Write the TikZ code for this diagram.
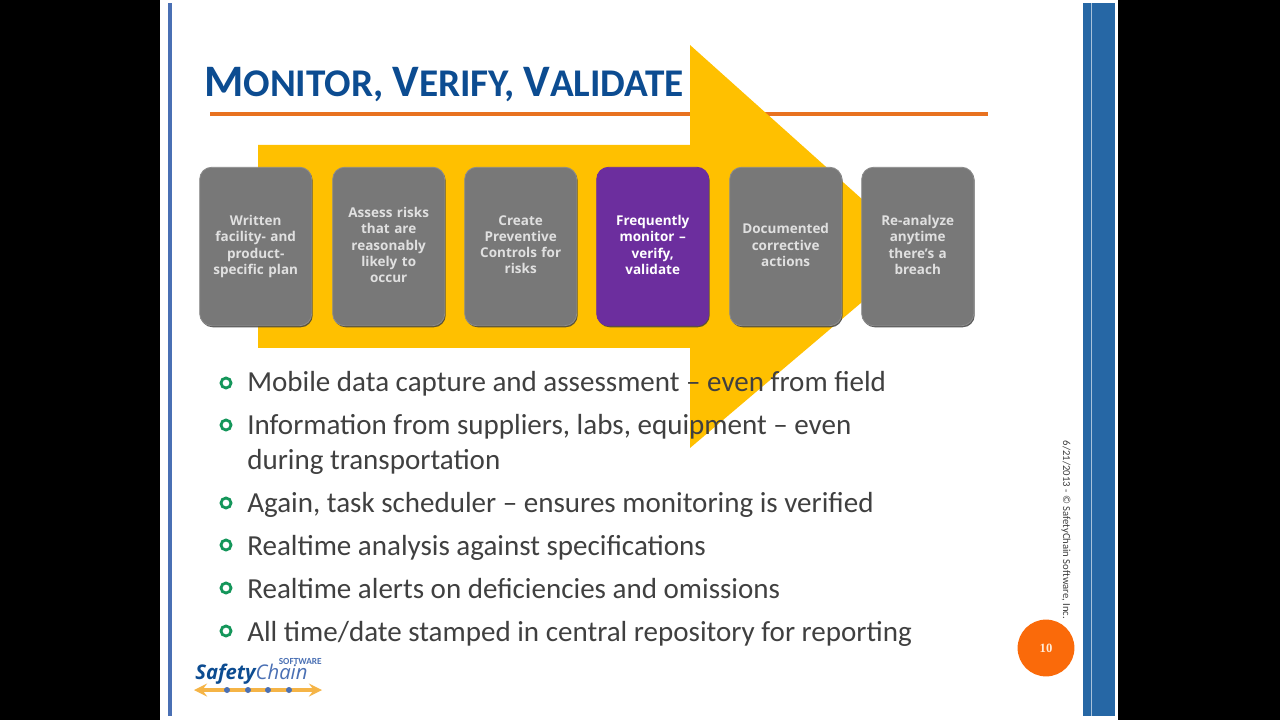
\documentclass[tikz,border=0pt]{standalone}
\usepackage{fontspec}
\usepackage{xcolor}
\setmainfont{Carlito}
\newfontfamily\boxfont{Open Sans}
\usetikzlibrary{positioning, shadows}
\definecolor{barblue}{RGB}{38, 103, 165}
\definecolor{edgeblue}{RGB}{74, 112, 180}
\definecolor{titleblue}{RGB}{12, 76, 145}
\definecolor{ruleorange}{RGB}{232, 114, 32}
\definecolor{arrowyellow}{RGB}{255, 192, 0}
\definecolor{boxgrey}{RGB}{120, 120, 120}
\definecolor{boxpurple}{RGB}{108, 46, 158}
\definecolor{ringgreen}{RGB}{20, 150, 90}
\definecolor{bodygrey}{RGB}{64, 64, 64}
\definecolor{badgeorange}{RGB}{250, 106, 10}
\definecolor{logoorange}{RGB}{245, 180, 70}
\tikzstyle{stepbox} = [rectangle, rounded corners=8.5pt, minimum width=2.8cm, minimum height=3.96cm, inner sep=0pt, align=center, text=white!88!black, text width=2.7cm, draw=boxgrey!85!white, line width=0.6pt, fill=boxgrey, font=\boxfont\fontsize{9.6}{11.4}\selectfont\bfseries, drop shadow={shadow xshift=0.7pt, shadow yshift=-1.1pt, fill=black!75, opacity=0.85}]
\tikzstyle{bulletring} = [circle, draw=ringgreen, line width=2pt, fill=white, minimum size=0.25cm, inner sep=0pt]
\tikzstyle{bullettext} = [anchor=west, inner sep=0pt, align=left, text=bodygrey, font=\fontsize{20.65}{25}\selectfont]
\newcommand{\capbig}{\fontsize{32}{32}\selectfont}
\newcommand{\capsmall}{\fontsize{27.9}{27.9}\selectfont}

\begin{document}
\begin{tikzpicture}[x=0.025cm, y=-0.025cm]
\useasboundingbox (0,0) rectangle (1280,720);

% Slide
\fill [black] (0,0) rectangle (1280,720);
\fill [white] (160,0) rectangle (1118,720);
\fill [edgeblue] (168,3) rectangle (172,716);
\fill [barblue] (1083,3) rectangle (1115,716);
\fill [white!60!barblue] (1091,3) rectangle (1091.8,716);

% Title
\node (title) [anchor=base west, inner sep=0pt, text=titleblue, font=\bfseries] at (204,97) {\capbig M\capsmall ONITOR, \capbig V\capsmall ERIFY, \capbig V\capsmall ALIDATE};
\fill [ruleorange] (210,112) rectangle (988,116);

% Arrow
\fill [arrowyellow] (258,145) -- (690,145) -- (690,45) -- (921,252) -- (690,448) -- (690,348) -- (258,348) -- cycle;

% Steps
\node (written) [stepbox] at (255.7,246.5) {Written\\facility- and\\product-\\specific plan\vphantom{p}};
\node (assess) [stepbox] at (388.7,246.5) {Assess risks\\that are\\reasonably\\likely to\\occur\vphantom{p}};
\node (create) [stepbox] at (520.7,246.5) {Create\\Preventive\\Controls for\\risks\vphantom{p}};
\node (monitor) [stepbox, fill=boxpurple, draw=boxpurple, text=white] at (652.7,246.5) {Frequently\\monitor –\\verify,\\validate\vphantom{p}};
\node (documented) [stepbox] at (785.7,246.5) {Documented\\corrective\\actions\vphantom{p}};
\node (reanalyze) [stepbox] at (917.7,246.5) {Re-analyze\\anytime\\there’s a\\breach\vphantom{p}};

% Bullets
\node (ringa) [bulletring] at (226,383) {};
\node (ringb) [bulletring] at (226,425) {};
\node (ringc) [bulletring] at (226,503) {};
\node (ringd) [bulletring] at (226,545) {};
\node (ringe) [bulletring] at (226,588) {};
\node (ringf) [bulletring] at (226,631) {};
\node (texta) [bullettext] at (247,384) {Mobile data capture and assessment – even from field};
\node (textb) [bullettext, anchor=north west] at (247,414) {Information from suppliers, labs, equipment – even\\during transportation};
\node (textc) [bullettext] at (247,505) {Again, task scheduler – ensures monitoring is verified};
\node (textd) [bullettext] at (247,548) {Realtime analysis against specifications};
\node (texte) [bullettext] at (247,589) {Realtime alerts on deficiencies and omissions};
\node (textf) [bullettext] at (247,634) {All time/date stamped in central repository for reporting};

% Footer
\node (date) [rotate=-90, inner sep=0pt, text=bodygrey, font=\fontsize{7.6}{7.6}\selectfont] at (1066,530) {6/21/2013 - © SafetyChain Software, Inc.};
\node (badge) [circle, fill=badgeorange, minimum size=1.42cm, inner sep=0pt, text=white!85!orange, font=\fontspec{Liberation Serif}\fontsize{9}{9}\selectfont\bfseries] at (1046,648) {10};

% Logo
\coordinate (logoleft) at (194,690);
\coordinate (logoright) at (322,690);
\draw [logoorange, line width=3pt, <->, >=stealth] (logoleft) -- (logoright);
\foreach \x in {227,248,268,289} {
  \fill [edgeblue] (\x,690) circle (3);
}
\node (logosoft) [anchor=east, inner sep=0pt, text=edgeblue, font=\fontsize{6.6}{6.6}\selectfont\bfseries] at (322,661) {SOFTWARE};
\node (logoname) [anchor=west, inner sep=0pt, font=\fontspec{Open Sans}\fontsize{14.4}{14.4}\selectfont\itshape] at (195,674) {\textcolor{titleblue}{\bfseries Safety}\textcolor{edgeblue}{Chain}};
\end{tikzpicture}
\end{document}
